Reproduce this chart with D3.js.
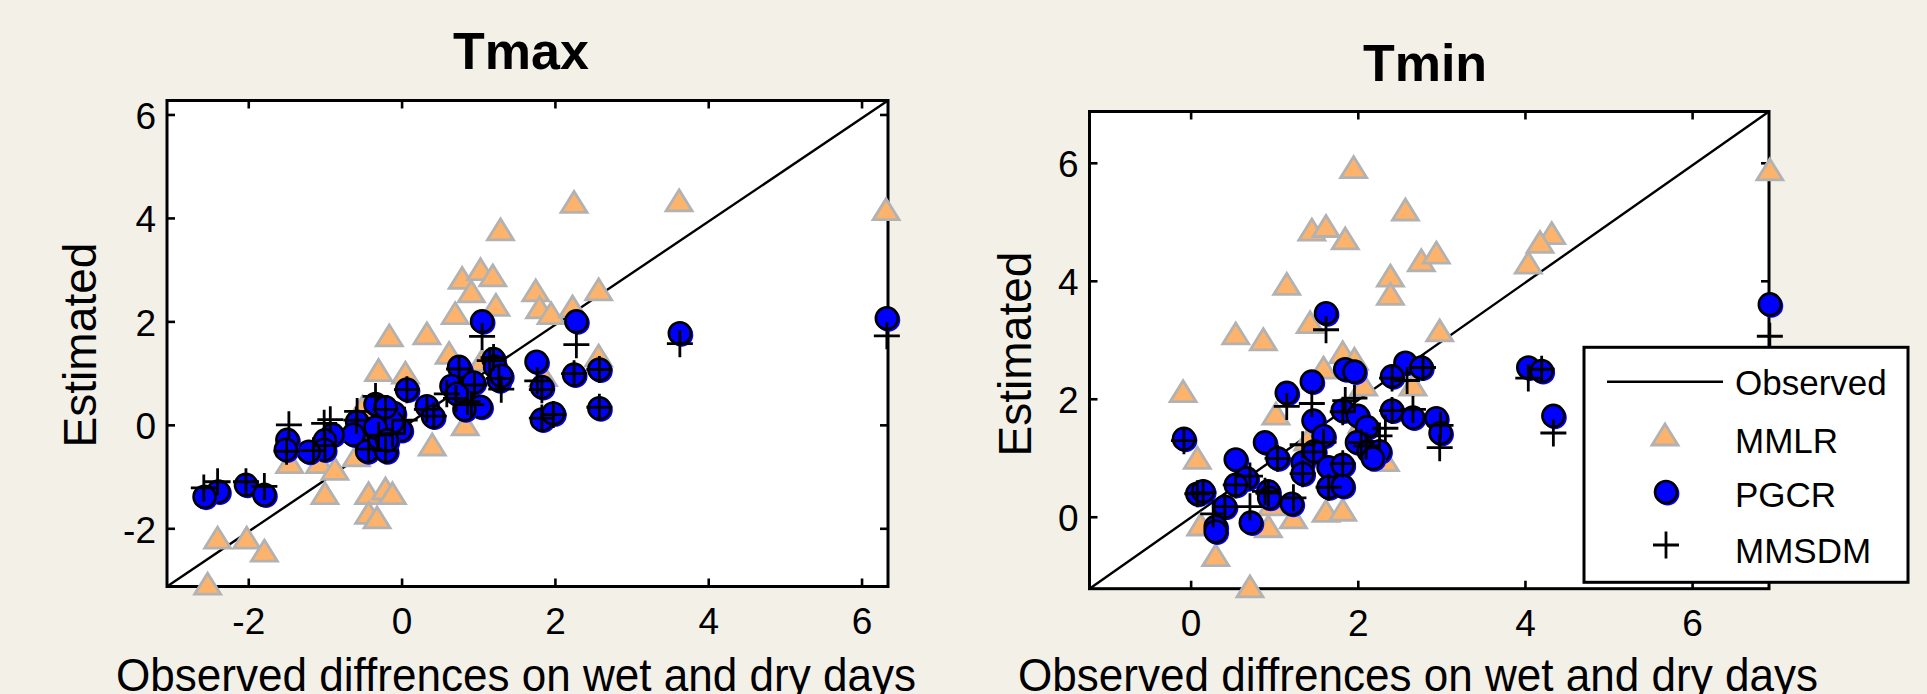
<!DOCTYPE html>
<html><head><meta charset="utf-8">
<script src="https://cdn.jsdelivr.net/npm/d3@7"></script>
<style>
html,body{margin:0;padding:0;background:#F3F0E8;}
svg{display:block;}
text{font-family:"Liberation Sans",Arial,sans-serif;fill:#000;}
</style>
</head><body>
<svg id="chart" width="1927" height="694"></svg>
<script>
// ---------- DATA ----------
const tmaxMMLR = [[2.25,4.30],[3.62,4.33],[6.32,4.16],[1.29,3.77],[0.79,2.83],[1.03,3.00],[1.19,2.88],[0.91,2.57],[1.23,2.31],[0.70,2.15],[1.75,2.59],[1.80,2.26],[1.95,2.15],[2.23,2.28],[2.57,2.61],[-0.16,1.72],[0.33,1.76],[0.62,1.38],[-0.30,1.05],[0.05,1.00],[2.57,1.33],[1.05,1.24],[0.83,0.00],[0.40,-0.39],[-1.46,-0.73],[-1.07,-0.73],[-0.87,-0.86],[-1.00,-1.33],[-0.43,-1.33],[-0.21,-1.24],[-0.12,-1.33],[-0.43,-1.71],[-0.32,-1.80],[-2.40,-2.19],[-2.02,-2.19],[-1.79,-2.44],[-2.53,-3.08],[-0.59,-0.60],[-0.51,0.34],[0.75,0.75],[1.85,0.95]];
const tmaxPGCR = [[6.33,2.06],[3.63,1.77],[2.28,2.00],[1.05,2.00],[1.76,1.22],[1.83,0.73],[1.83,0.10],[1.98,0.22],[2.25,0.97],[2.58,1.07],[2.58,0.32],[1.20,1.27],[1.22,1.12],[1.27,0.86],[1.30,0.95],[0.77,1.05],[0.75,1.12],[0.65,0.75],[0.94,0.82],[0.86,0.38],[1.03,0.35],[0.82,0.30],[0.33,0.36],[0.41,0.16],[0.07,0.68],[-0.01,-0.10],[-0.10,0.23],[-0.12,0.05],[-0.34,0.40],[-0.21,0.34],[-0.58,0.06],[-0.63,-0.19],[-0.45,-0.51],[-0.20,-0.51],[-0.30,-0.25],[-0.90,-0.19],[-1.00,-0.30],[-1.01,-0.48],[-1.21,-0.52],[-1.49,-0.29],[-1.51,-0.48],[-2.03,-1.16],[-1.79,-1.35],[-2.39,-1.29],[-2.57,-1.39],[-0.34,-0.05],[-0.19,-0.30],[0.72,0.60]];
const tmaxMMSDM = [[6.33,1.72],[3.63,1.57],[2.28,1.55],[1.05,1.71],[1.77,0.85],[1.83,0.68],[1.83,0.13],[1.98,0.20],[2.25,0.99],[2.58,1.07],[2.58,0.34],[1.20,1.30],[1.15,1.24],[1.30,0.69],[1.27,0.90],[0.75,1.08],[0.59,0.60],[0.71,0.51],[0.95,0.77],[0.91,0.39],[0.42,0.17],[0.07,0.68],[0.04,0.09],[-0.12,-0.17],[-0.34,0.55],[-0.21,0.30],[-0.58,0.26],[-0.59,0.09],[-0.43,-0.47],[-0.21,-0.50],[-0.30,-0.20],[-0.93,0.10],[-1.01,0.03],[-1.15,-0.50],[-1.47,0.00],[-1.50,-0.51],[-2.03,-1.10],[-1.79,-1.19],[-2.40,-1.10],[-2.58,-1.22],[-1.00,-0.40],[0.33,0.30],[0.86,0.45]];

const tminMMLR = [[6.93,5.88],[1.95,5.92],[2.57,5.20],[1.45,4.86],[1.62,4.92],[1.85,4.71],[4.32,4.80],[4.18,4.65],[4.04,4.30],[2.76,4.34],[2.94,4.47],[1.15,3.94],[2.39,4.08],[2.39,3.77],[1.43,3.29],[0.54,3.10],[0.87,3.00],[2.98,3.15],[-0.09,2.12],[1.82,2.78],[1.96,2.67],[1.59,2.52],[2.07,2.23],[2.66,2.23],[1.02,1.74],[0.08,0.99],[1.62,0.09],[1.82,0.11],[1.23,-0.02],[0.93,-0.17],[0.12,-0.14],[0.30,-0.66],[0.71,-1.19],[0.97,0.20],[2.33,0.95],[1.40,1.30],[2.05,1.60]];
const tminPGCR = [[6.93,3.60],[1.62,3.45],[4.04,2.53],[4.20,2.47],[4.34,1.71],[2.57,2.61],[2.76,2.53],[2.41,2.38],[1.85,2.50],[1.96,2.46],[1.45,2.29],[1.15,2.10],[-0.08,1.32],[2.41,1.80],[2.66,1.68],[2.94,1.67],[2.99,1.42],[1.82,1.80],[2.00,1.71],[2.11,1.52],[1.99,1.26],[2.13,1.11],[2.26,1.11],[2.18,0.99],[1.47,1.63],[1.59,1.37],[0.89,1.26],[1.04,0.99],[0.54,0.97],[1.34,0.92],[1.34,0.73],[1.48,1.11],[1.65,0.84],[1.82,0.88],[1.65,0.50],[1.82,0.52],[0.93,0.43],[0.94,0.32],[1.21,0.22],[0.67,0.65],[0.54,0.54],[0.08,0.39],[0.15,0.43],[0.41,0.17],[0.30,-0.17],[0.30,-0.25],[0.72,-0.10]];
const tminMMSDM = [[6.93,3.06],[1.62,3.17],[4.04,2.35],[4.34,1.42],[2.98,1.17],[1.15,1.87],[1.45,1.92],[1.85,1.97],[1.96,2.01],[2.59,2.31],[2.41,2.35],[2.66,1.82],[2.33,1.50],[2.26,1.37],[1.34,1.22],[1.59,1.26],[2.04,1.26],[0.27,0.05],[0.71,0.17],[0.71,0.69],[1.23,0.32],[0.89,0.43],[-0.08,1.29],[0.08,0.39],[0.15,0.41],[0.54,0.54],[1.04,0.99],[1.34,0.73],[1.65,0.50],[1.82,0.90],[1.82,1.78],[2.78,2.53],[4.20,2.50],[2.41,1.80],[0.41,0.17],[0.93,0.40],[2.99,1.55],[1.47,1.10],[2.10,1.20]];

const tmaxXTicks = [-2,0,2,4,6];
const tmaxYTicks = [-2,0,2,4,6];
const tminXTicks = [0,2,4,6];
const tminYTicks = [0,2,4,6];
const tmaxXDomain = [-3.06,6.345];
const tmaxYDomain = [-3.125,6.27];
const tminXDomain = [-1.21,6.92];
const tminYDomain = [-1.22,6.87];

const titles = ["Tmax","Tmin"];
const legendLabels = ["Observed","MMLR","PGCR","MMSDM"];
const xAxisLabel = "Observed diffrences on wet and dry days";
const yAxisLabel = "Estimated";

// ---------- STYLE / LAYOUT ----------
const ORANGE = "#FDB36B", GRAY = "#B2B2B2", BLUE = "#0000FF";
const TICK_FONT = 37;
const triPath = "M0,-11L13,10L-13,10Z";
const plusPath = "M-13,0H13M0,-13.5V13.5";
const CR = 11;

const panels = [
  {title:titles[0], box:[167,888,100.5,586.5], xd:tmaxXDomain, yd:tmaxYDomain, xt:tmaxXTicks, yt:tmaxYTicks,
   mmlr:tmaxMMLR, pgcr:tmaxPGCR, mmsdm:tmaxMMSDM, titlePos:[521,69], ylab:[96,345], xlab:[516,691]},
  {title:titles[1], box:[1089.5,1769,111.5,588.7], xd:tminXDomain, yd:tminYDomain, xt:tminXTicks, yt:tminYTicks,
   mmlr:tminMMLR, pgcr:tminPGCR, mmsdm:tminMMSDM, titlePos:[1425,81], ylab:[1031,354], xlab:[1418,691], legend:true}
];

const svg = d3.select("#chart");
svg.append("rect").attr("width",1927).attr("height",694).attr("fill","#F3F0E8");

function drawCircle(g, cx, cy){
  g.append("circle").attr("cx",cx+1.6).attr("cy",cy+1.6).attr("r",CR+0.8).attr("fill",BLUE);
  g.append("circle").attr("cx",cx).attr("cy",cy).attr("r",CR).attr("fill",BLUE).attr("stroke","#000").attr("stroke-width",2.6);
}

panels.forEach(p => {
  const [x0,x1,y0,y1] = p.box;
  const x = d3.scaleLinear().domain(p.xd).range([x0,x1]);
  const y = d3.scaleLinear().domain(p.yd).range([y1,y0]);
  const g = svg.append("g");

  g.append("rect").attr("x",x0).attr("y",y0).attr("width",x1-x0).attr("height",y1-y0).attr("fill","#fff");

  const fmt = d => String(d);
  const ax = g.append("g").attr("transform",`translate(0,${y1})`).call(d3.axisBottom(x).tickValues(p.xt).tickSize(-8).tickFormat(fmt));
  ax.selectAll("text").attr("y",47).attr("dy",0).style("font-size",TICK_FONT+"px").style("font-family","Liberation Sans, Arial, sans-serif").attr("fill","#000");
  const axT = g.append("g").attr("transform",`translate(0,${y0})`).call(d3.axisTop(x).tickValues(p.xt).tickSize(-8).tickFormat(""));
  const ay = g.append("g").attr("transform",`translate(${x0},0)`).call(d3.axisLeft(y).tickValues(p.yt).tickSize(-8).tickFormat(fmt));
  ay.selectAll("text").attr("x",-11).attr("dy","0.38em").style("font-size",TICK_FONT+"px").style("font-family","Liberation Sans, Arial, sans-serif").attr("fill","#000");
  const ayR = g.append("g").attr("transform",`translate(${x1},0)`).call(d3.axisRight(y).tickValues(p.yt).tickSize(-8).tickFormat(""));
  [ax,axT,ay,ayR].forEach(a => { a.select(".domain").remove(); a.selectAll("line").attr("stroke","#000").attr("stroke-width",2.6); });

  // Observed 1:1 line (corner to corner)
  g.append("line").attr("x1",x(p.xd[0])).attr("y1",y(p.yd[0])).attr("x2",x(p.xd[1])).attr("y2",y(p.yd[1]))
    .attr("stroke","#000").attr("stroke-width",2.4);

  g.append("rect").attr("x",x0).attr("y",y0).attr("width",x1-x0).attr("height",y1-y0)
    .attr("fill","none").attr("stroke","#000").attr("stroke-width",3);

  // MMLR triangles
  g.append("g").selectAll("path").data(p.mmlr).join("path")
    .attr("d",triPath).attr("transform",d=>`translate(${x(d[0])},${y(d[1])})`)
    .attr("fill",ORANGE).attr("stroke",GRAY).attr("stroke-width",2.8);
  // PGCR circles
  const cg = g.append("g");
  p.pgcr.forEach(d => drawCircle(cg, x(d[0]), y(d[1])));
  // MMSDM pluses
  g.append("g").selectAll("path").data(p.mmsdm).join("path")
    .attr("d",plusPath).attr("transform",d=>`translate(${x(d[0])},${y(d[1])})`)
    .attr("fill","none").attr("stroke","#000").attr("stroke-width",2.8);

  // titles & labels
  svg.append("text").attr("x",p.titlePos[0]).attr("y",p.titlePos[1]).attr("text-anchor","middle")
    .style("font-size","52px").style("font-weight","bold").text(p.title);
  svg.append("text").attr("x",p.xlab[0]).attr("y",p.xlab[1]).attr("text-anchor","middle")
    .style("font-size","47px").attr("textLength",800).attr("lengthAdjust","spacingAndGlyphs").text(xAxisLabel);
  svg.append("text").attr("transform",`translate(${p.ylab[0]},${p.ylab[1]}) rotate(-90)`).attr("text-anchor","middle")
    .style("font-size","47px").attr("textLength",205).attr("lengthAdjust","spacingAndGlyphs").text(yAxisLabel);

  if (p.legend) {
    const L = svg.append("g");
    L.append("rect").attr("x",1584).attr("y",347.3).attr("width",324).attr("height",235)
      .attr("fill","#fff").attr("stroke","#000").attr("stroke-width",3);
    const rows = [395,452.7,506.7,563];
    const my = [381.7,435,492,545];
    L.append("line").attr("x1",1607).attr("x2",1723).attr("y1",my[0]).attr("y2",my[0]).attr("stroke","#000").attr("stroke-width",2.6);
    L.append("path").attr("d",triPath).attr("transform",`translate(1665,${my[1]})`).attr("fill",ORANGE).attr("stroke",GRAY).attr("stroke-width",2.8);
    drawCircle(L,1666,my[2]);
    L.append("path").attr("d",plusPath).attr("transform",`translate(1666,${my[3]})`).attr("fill","none").attr("stroke","#000").attr("stroke-width",2.8);
    legendLabels.forEach((t,i) => {
      L.append("text").attr("x",1735).attr("y",rows[i]).style("font-size","35px").text(t);
    });
  }
});
</script>
</body></html>
